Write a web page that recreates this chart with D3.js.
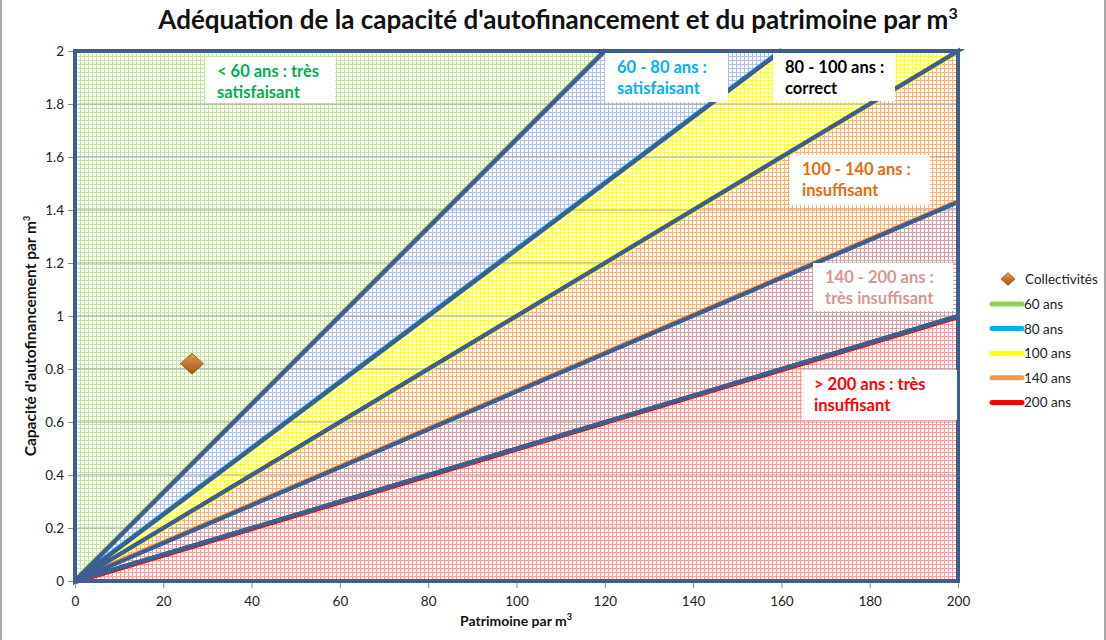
<!DOCTYPE html>
<html>
<head>
<meta charset="utf-8">
<script src="https://cdn.jsdelivr.net/npm/d3@7"></script>
<style>
  body { margin: 0; background: #fff; }
  text { font-family: Lato, "Open Sans", sans-serif; }
</style>
</head>
<body>
<svg id="chart" width="1106" height="640"></svg>
<script>
// seuils en années et extrémités de chaque droite
var seuils = [60, 80, 100, 140, 200];
var finX = [120, 160, 200, 200, 200];
var finY = [2, 2, 2, 1.43, 1];
var serieNoms = ["60 ans", "80 ans", "100 ans", "140 ans", "200 ans"];
var serieCouleurs = ["#92d050", "#00b0f0", "#ffff00", "#f79646", "#ff0000"];

// point des collectivités
var collX = [26.5];
var collY = [0.82];

var xTicks = [0, 20, 40, 60, 80, 100, 120, 140, 160, 180, 200];
var yTicks = [0, 0.2, 0.4, 0.6, 0.8, 1, 1.2, 1.4, 1.6, 1.8, 2];

var zones = [
    {lignes: ["< 60 ans : très", "satisfaisant"], color: "#00b050"},
    {lignes: ["60 - 80 ans :", "satisfaisant"], color: "#00b0f0"},
    {lignes: ["80 - 100 ans :", "correct"], color: "#000000"},
    {lignes: ["100 - 140 ans :", "insuffisant"], color: "#e46c0a"},
    {lignes: ["140 - 200  ans :", "très insuffisant"], color: "#d99694"},
    {lignes: ["> 200 ans : très", "insuffisant"], color: "#ff0000"}
];

(function(){
    // layout
    var boxes = [
        {x: 205, y: 57, w: 130, h: 46},
        {x: 605, y: 53, w: 123, h: 49},
        {x: 773, y: 53, w: 122, h: 48},
        {x: 790, y: 155, w: 140, h: 50},
        {x: 813, y: 263, w: 140, h: 48},
        {x: 802, y: 370, w: 155, h: 50}
    ];
    var motifs = ["#c4e3a9", "#b0c3e4", "#ffff38", "#f6b27e", "#cfa3a3", "#fa9c9c"];
    var decal = [-2, -2, 2, -2, 2];

    var svg = d3.select("#chart");
    var pl = 75, pr = 958, pt = 51, pb = 581;

    var x = d3.scaleLinear().domain([0, 200]).range([pl, pr]);
    var y = d3.scaleLinear().domain([0, 2]).range([pb, pt]);

    // outer chart border
    svg.append("line").attr("x1", 1).attr("x2", 1).attr("y1", 0).attr("y2", 640)
        .attr("stroke", "#8c8c8c").attr("stroke-width", 1.5);
    svg.append("line").attr("x1", 1105).attr("x2", 1105).attr("y1", 0).attr("y2", 640)
        .attr("stroke", "#8c8c8c").attr("stroke-width", 1.5);

    // patterns
    var defs = svg.append("defs");
    motifs.forEach(function(fg, i){
        var p = defs.append("pattern")
            .attr("id", "motif" + i)
            .attr("patternUnits", "userSpaceOnUse")
            .attr("width", 4).attr("height", 4);
        p.append("rect").attr("width", 4).attr("height", 4).attr("fill", "#fff");
        p.append("rect").attr("width", 4).attr("height", 1).attr("fill", fg);
        p.append("rect").attr("width", 1).attr("height", 4).attr("fill", fg);
    });

    var grad = defs.append("linearGradient").attr("id", "diam")
        .attr("x1", 0).attr("y1", 0).attr("x2", 0).attr("y2", 1);
    grad.append("stop").attr("offset", "0%").attr("stop-color", "#e8964a");
    grad.append("stop").attr("offset", "100%").attr("stop-color", "#9c5a1e");

    // extremities including plot corners
    var ends = [[0, 2]];
    seuils.forEach(function(s, i){ ends.push([finX[i], finY[i]]); });
    ends.push([200, 0]);

    var zoneData = d3.range(ends.length - 1).map(function(i){
        return [[0, 0], ends[i], ends[i + 1]];
    });

    var line = d3.line().x(function(d){ return x(d[0]); }).y(function(d){ return y(d[1]); });

    svg.append("g").attr("class", "zones")
        .selectAll("path").data(zoneData).enter()
        .append("path")
        .attr("d", function(d){ return line(d) + "Z"; })
        .attr("fill", function(d, i){ return "url(#motif" + i + ")"; });

    // gridlines
    svg.append("g").attr("class", "grid")
        .selectAll("line").data(yTicks.slice(1)).enter()
        .append("line")
        .attr("x1", pl).attr("x2", pr)
        .attr("y1", function(d){ return y(d); }).attr("y2", function(d){ return y(d); })
        .attr("stroke", "#a6a6a6").attr("stroke-width", 1.2);

    // coloured series lines
    svg.append("g").attr("class", "series")
        .selectAll("path").data(seuils).enter()
        .append("path")
        .attr("d", function(d, i){ return line([[0, 0], [finX[i], finY[i]]]); })
        .attr("transform", function(d, i){ return "translate(0," + decal[i] + ")"; })
        .attr("stroke", function(d, i){ return serieCouleurs[i]; })
        .attr("stroke-width", 2.5)
        .attr("fill", "none");

    // zone outlines
    svg.append("g").attr("class", "outlines")
        .selectAll("path").data(zoneData).enter()
        .append("path")
        .attr("d", function(d){ return line(d) + "Z"; })
        .attr("fill", "none")
        .attr("stroke", "#3d5f8f")
        .attr("stroke-width", 4)
        .attr("stroke-linejoin", "miter");

    // axes
    var xAxis = svg.append("g").attr("transform", "translate(0," + (pb + 2) + ")")
        .call(d3.axisBottom(x).tickValues(xTicks).tickSize(5).tickPadding(8));
    var yAxis = svg.append("g").attr("transform", "translate(" + (pl - 2) + ",0)")
        .call(d3.axisLeft(y).tickValues(yTicks).tickSize(5).tickPadding(4)
            .tickFormat(function(d){ return d3.format("")(d); }));
    [xAxis, yAxis].forEach(function(a){
        a.select(".domain").remove();
        a.selectAll(".tick line").attr("stroke", "#8c8c8c");
        a.selectAll(".tick text").attr("font-size", 13.5).attr("fill", "#222")
            .attr("font-family", "Lato, sans-serif");
    });

    // zone labels
    var lab = svg.append("g").attr("class", "labels")
        .selectAll("g").data(zones).enter().append("g");
    lab.append("rect")
        .attr("x", function(d, i){ return boxes[i].x; })
        .attr("y", function(d, i){ return boxes[i].y; })
        .attr("width", function(d, i){ return boxes[i].w; })
        .attr("height", function(d, i){ return boxes[i].h; })
        .attr("fill", "#fff");
    lab.each(function(d, i){
        var g = d3.select(this);
        d.lignes.forEach(function(t, k){
            g.append("text")
                .attr("x", boxes[i].x + 12)
                .attr("y", boxes[i].y + 20 + k * 21)
                .attr("font-size", 16.5).attr("font-weight", "bold")
                .attr("fill", d.color)
                .text(t);
        });
    });

    // losange
    function losange(w, h){
        return "M0," + (-h) + "L" + w + ",0L0," + h + "L" + (-w) + ",0Z";
    }

    // collectivités
    svg.append("g").selectAll("path").data(collX).enter()
        .append("path")
        .attr("d", losange(11.5, 10.5))
        .attr("transform", function(d, i){ return "translate(" + x(d) + "," + y(collY[i]) + ")"; })
        .attr("fill", "url(#diam)").attr("stroke", "#8a4a18").attr("stroke-width", 0.8);

    // title
    svg.append("text")
        .attr("x", 558).attr("y", 29)
        .attr("text-anchor", "middle")
        .attr("font-size", 26).attr("font-weight", "bold").attr("fill", "#111")
        .text("Adéquation de la capacité d'autofinancement et du patrimoine par m")
        .append("tspan").attr("dy", -10).attr("font-size", 16).text("3");

    // axis titles
    var xt = svg.append("text")
        .attr("x", 516).attr("y", 626).attr("text-anchor", "middle")
        .attr("font-size", 14).attr("font-weight", "bold").attr("fill", "#111")
        .text("Patrimoine par m");
    xt.append("tspan").attr("dy", -6).attr("font-size", 9).text("3");

    var yt = svg.append("text")
        .attr("transform", "translate(36,336) rotate(-90)")
        .attr("text-anchor", "middle")
        .attr("font-size", 15.5).attr("font-weight", "bold").attr("fill", "#111")
        .text("Capacité d'autofinancement par m");
    yt.append("tspan").attr("dy", -6).attr("font-size", 9).text("3");

    // legend
    var leg = svg.append("g").attr("class", "legend");
    leg.append("path")
        .attr("d", losange(7, 6.5))
        .attr("transform", "translate(1008,279)")
        .attr("fill", "url(#diam)").attr("stroke", "#8a4a18").attr("stroke-width", 0.6);
    leg.append("text").attr("x", 1025).attr("y", 284)
        .attr("font-size", 13.5).attr("fill", "#222").text("Collectivités");
    var li = leg.selectAll("g.item").data(serieNoms).enter().append("g").attr("class", "item")
        .attr("transform", function(d, i){ return "translate(0," + (304 + i * 24.6) + ")"; });
    li.append("line")
        .attr("x1", 992).attr("x2", 1022)
        .attr("stroke", function(d, i){ return serieCouleurs[i]; })
        .attr("stroke-width", 5).attr("stroke-linecap", "round");
    li.append("text").attr("x", 1024).attr("y", 5)
        .attr("font-size", 13.5).attr("fill", "#222").text(function(d){ return d; });
})();
</script>
</body>
</html>
